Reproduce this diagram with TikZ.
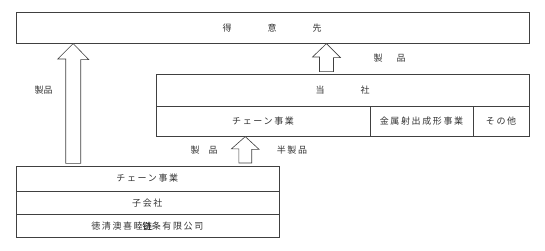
\documentclass[tikz,border=0pt]{standalone}
\usepackage{fontspec}
\setmainfont{Noto Sans CJK JP}[LetterSpace=18]
\newfontfamily\boldcjk{Noto Sans CJK SC}[FakeBold=1.2,LetterSpace=18]
\newfontfamily\tightcjk{Noto Sans CJK JP}
\begin{document}
\begin{tikzpicture}[x=1pt,y=-1pt,
  line/.style={draw=black!75,line width=0.6pt},
  cell/.style={line,minimum height=0pt,inner sep=0pt,anchor=north west},
  lab/.style={font=\fontsize{9}{10}\selectfont,text=black!80,inner sep=0pt},
  blk/.style={line,fill=white}]
\useasboundingbox (0,0) rectangle (545,251);
% boxes
\node[cell,minimum width=513.5pt,minimum height=31pt] (cust) at (15.5,12) {};
\node[cell,minimum width=373.5pt,minimum height=31.5pt] (co) at (155.5,74) {};
\node[cell,minimum width=214.5pt,minimum height=30.5pt] (chain) at (155.5,105.5) {};
\node[cell,minimum width=102.5pt,minimum height=30.5pt] (metal) at (370,105.5) {};
\node[cell,minimum width=56.5pt,minimum height=30.5pt] (other) at (472.5,105.5) {};
\node[cell,minimum width=263pt,minimum height=25pt] (sc) at (15.5,165.7) {};
\node[cell,minimum width=263pt,minimum height=23.3pt] (sub) at (15.5,190.7) {};
\node[cell,minimum width=263pt,minimum height=23.3pt] (de) at (15.5,214) {};
% texts
\node[lab] (tcust) at ([xshift=-0.5pt]cust.center) {得\hspace{36pt}意\hspace{36pt}先};
\node[lab] (tco) at (co.center) {当\hspace{36pt}社};
\node[lab] (tchain) at (chain.center) {チェーン事業};
\node[lab] (tmetal) at (metal.center) {金属射出成形事業};
\node[lab] (tother) at (other.center) {その他};
\node[lab] (tsc) at (sc.center) {チェーン事業};
\node[lab] (tsub) at (sub.center) {子会社};
\node[lab] (tde) at (de.center) {徳清澳喜睦{\boldcjk 链}条有限公司};
\node[lab] (l1) at (43.5,90) {\tightcjk 製品};
\node[lab] (l2) at (389.5,58) {製\hspace{14pt}品};
\node[lab] (l3) at (204,150) {製\hspace{9pt}品};
\node[lab] (l4) at (292,150) {半製品};
% block arrows
\coordinate (a1) at (73.2,0);
\coordinate (a1b) at (73.2,163.3);
\draw[blk] (cust.south -| a1)
  -- ++(15.5,16) -- ++(-8,0) |- (a1b) -- ++(-7.5,0)
  |- ++(-8,-104.3) -- cycle;
\coordinate (a2) at (326.5,0);
\coordinate (a2b) at (326.5,71.7);
\draw[blk] (cust.south -| a2)
  -- ++(14,14) -- ++(-7,0) |- (a2b) -- ++(-7,0)
  |- ++(-7,-14.7) -- cycle;
\coordinate (a3) at (245.3,0);
\coordinate (a3b) at (245.3,163);
\draw[blk] (chain.south -| a3)
  -- ++(13.8,12.8) -- ++(-7.4,0) |- (a3b) -- ++(-6.4,0)
  |- ++(-7.4,-14.2) -- cycle;
\end{tikzpicture}
\end{document}
